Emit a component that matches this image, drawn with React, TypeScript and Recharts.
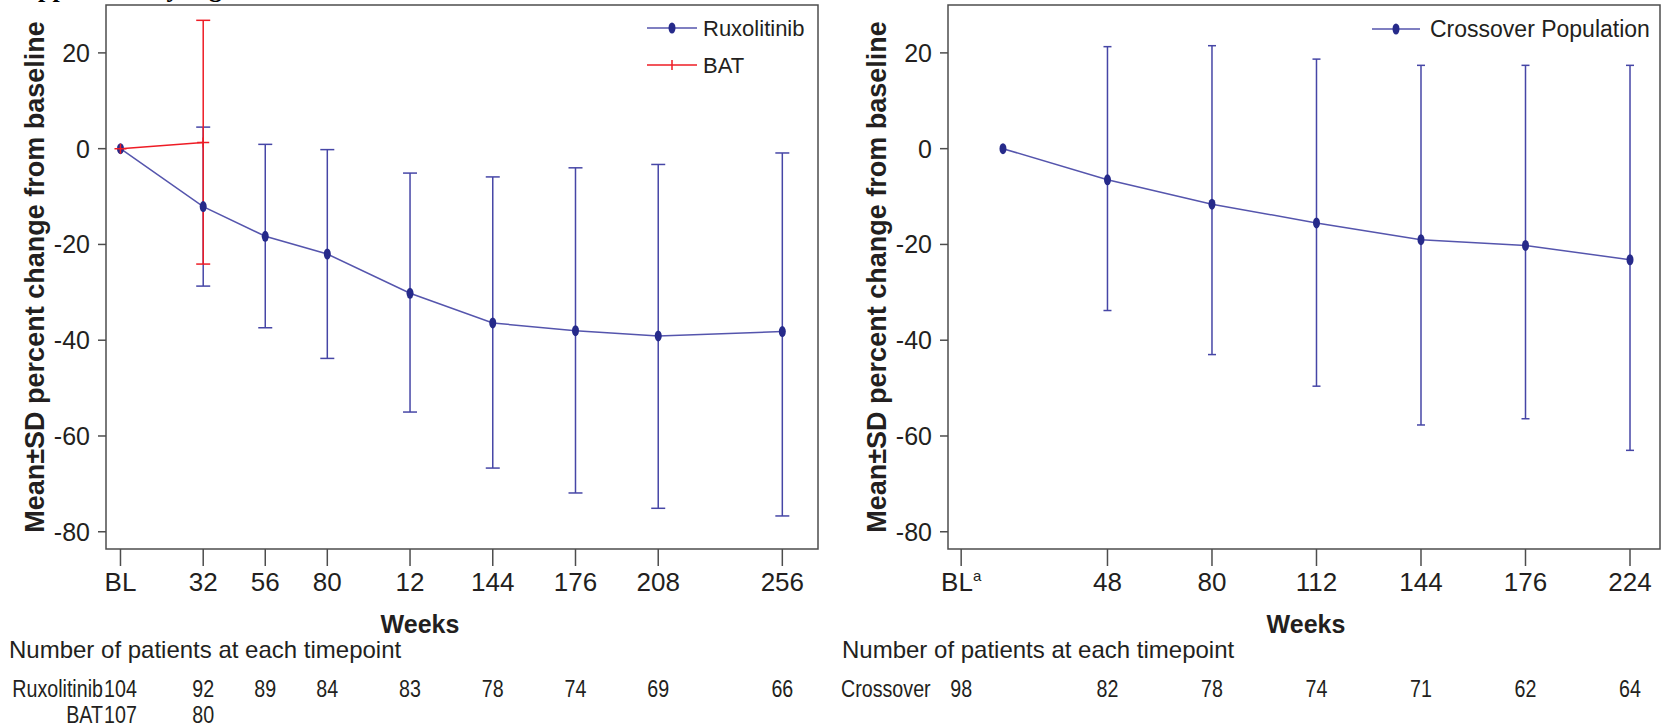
import React from 'react';
import { LineChart, Line, XAxis, YAxis, ErrorBar, ReferenceArea, Label } from 'recharts';

// ---- left panel: ruxolitinib vs BAT, by week ----
const ruxWeeks = [0, 32, 56, 80, 112, 144, 176, 208, 256];
const ruxMean = [0, -12.1, -18.3, -22.0, -30.2, -36.4, -38.0, -39.1, -38.2];
const ruxLow = [0, -28.7, -37.4, -43.8, -55.0, -66.7, -71.9, -75.1, -76.7];
const ruxHigh = [0, 4.5, 0.9, -0.2, -5.1, -5.9, -4.0, -3.3, -0.9];

const batWeeks = [0, 32];
const batMean = [0, 1.3];
const batLow = [0, -24.1];
const batHigh = [0, 26.8];

const leftTicks = [0, 32, 56, 80, 112, 144, 176, 208, 256];
const leftTickLabels = ['BL', '32', '56', '80', '12', '144', '176', '208', '256'];
const ruxCounts = [104, 92, 89, 84, 83, 78, 74, 69, 66];
const batCounts = [107, 80];

// ---- right panel: crossover population, by visit ----
const crossVisit = [0, 1, 2, 3, 4, 5, 6];
const crossMean = [0, -6.5, -11.6, -15.5, -19.0, -20.2, -23.2];
const crossLow = [0, -33.8, -43.0, -49.6, -57.7, -56.4, -63.0];
const crossHigh = [0, 21.3, 21.5, 18.7, 17.4, 17.4, 17.4];

const rightTicks = [-0.4, 1, 2, 3, 4, 5, 6];
const rightTickLabels = ['BL', '48', '80', '112', '144', '176', '224'];
const crossCounts = [98, 82, 78, 74, 71, 62, 64];

const yTicks = [-80, -60, -40, -20, 0, 20];
const yDomain: [number, number] = [-83.6, 30];
const leftDomain: [number, number] = [-5.6, 269.8];
const rightDomain: [number, number] = [-0.526, 6.287];

const ARIAL = '"Liberation Sans", Arial, sans-serif';
const TEXT = '#231f20';
const AXIS = '#4d4d4d';
const BLUE_LINE = '#5555ad';
const BLUE_BAR = '#4646a6';
const BLUE_DOT = '#262a8a';
const RED = '#ee1c25';

const withErr = (xs: number[], mean: number[], lo: number[], hi: number[]) =>
  xs.map((x, i) => ({
    x,
    mean: mean[i],
    err: i === 0 ? null : [mean[i] - lo[i], hi[i] - mean[i]],
  }));

const ruxData = withErr(ruxWeeks, ruxMean, ruxLow, ruxHigh);
const batData = withErr(batWeeks, batMean, batLow, batHigh);
const crossData = withErr(crossVisit, crossMean, crossLow, crossHigh);

// Arial squeezed horizontally, standing in for Arial Narrow
const Narrow = ({ x, y, anchor = 'middle', children }: any) => (
  <text
    transform={`translate(${x},${y}) scale(0.82,1)`}
    textAnchor={anchor}
    fontSize={24}
    fontFamily={ARIAL}
    fill={TEXT}
  >
    {children}
  </text>
);

const OvalDot = (p: any) => (
  <ellipse key={`o-${p.index}`} cx={p.cx} cy={p.cy} rx={3.5} ry={5.5} fill={BLUE_DOT} />
);

const PlusDot = (p: any) => (
  <path
    key={`p-${p.index}`}
    d={`M${p.cx - 6},${p.cy}h12M${p.cx},${p.cy - 5}v10`}
    stroke={RED}
    strokeWidth={1.5}
    fill="none"
  />
);

const LeftTick = (p: any) => {
  const i = leftTicks.indexOf(p.payload.value);
  return (
    <g>
      <text x={p.x} y={p.y + 25} textAnchor="middle" fontSize={26} fontFamily={ARIAL} fill={TEXT}>
        {leftTickLabels[i]}
      </text>
      <Narrow x={p.x} y={p.y + 131}>{ruxCounts[i]}</Narrow>
      {batCounts[i] != null && <Narrow x={p.x} y={p.y + 157}>{batCounts[i]}</Narrow>}
    </g>
  );
};

const RightTick = (p: any) => {
  const i = rightTicks.indexOf(p.payload.value);
  return (
    <g>
      <text x={p.x} y={p.y + 25} textAnchor="middle" fontSize={26} fontFamily={ARIAL} fill={TEXT}>
        {rightTickLabels[i]}
        {i === 0 && (
          <tspan fontSize={15} dy={-10}>
            a
          </tspan>
        )}
      </text>
      <Narrow x={p.x} y={p.y + 131}>{crossCounts[i]}</Narrow>
    </g>
  );
};

const YTitle = ({ viewBox }: any) => {
  const cx = viewBox.x + viewBox.width - 71;
  const cy = viewBox.y + viewBox.height / 2;
  return (
    <text
      x={cx}
      y={cy}
      transform={`rotate(-90 ${cx} ${cy})`}
      textAnchor="middle"
      dominantBaseline="central"
      fontSize={27}
      fontWeight="bold"
      fontFamily={ARIAL}
      fill={TEXT}
    >
      Mean±SD percent change from baseline
    </text>
  );
};

const weeksTitle = (dx: number) => ({ viewBox }: any) => (
  <text
    x={viewBox.x + viewBox.width / 2 + dx}
    y={viewBox.y + 84}
    textAnchor="middle"
    fontSize={25}
    fontWeight="bold"
    fontFamily={ARIAL}
    fill={TEXT}
  >
    Weeks
  </text>
);

const yAxisProps = {
  type: 'number' as const,
  domain: yDomain,
  ticks: yTicks,
  allowDataOverflow: true,
  axisLine: false,
  tickLine: { stroke: AXIS, strokeWidth: 1.5 },
  tickSize: 8,
  tickMargin: 8,
  width: 56,
  tick: { fontSize: 25, fontFamily: ARIAL, fill: TEXT },
};

function LeftPanel() {
  return (
    <LineChart width={840} height={728} margin={{ top: 5, right: 22, bottom: 9, left: 50 }}>
      <XAxis
        type="number"
        dataKey="x"
        domain={leftDomain}
        ticks={leftTicks}
        interval={0}
        allowDataOverflow
        axisLine={false}
        tickLine={{ stroke: AXIS, strokeWidth: 1.5 }}
        tickSize={17}
        tickMargin={0}
        height={170}
        tick={<LeftTick />}
      >
        <Label content={weeksTitle(-42)} />
      </XAxis>
      <YAxis {...yAxisProps}>
        <Label content={<YTitle />} />
      </YAxis>
      <ReferenceArea
        x1={leftDomain[0]}
        x2={leftDomain[1]}
        y1={yDomain[0]}
        y2={yDomain[1]}
        fill="none"
        stroke={AXIS}
        strokeWidth={1.5}
        ifOverflow="visible"
      />
      <Line
        data={ruxData}
        dataKey="mean"
        stroke={BLUE_LINE}
        strokeWidth={1.5}
        dot={OvalDot}
        activeDot={false}
        isAnimationActive={false}
      >
        <ErrorBar dataKey="err" width={7} stroke={BLUE_BAR} strokeWidth={1.5} direction="y" isAnimationActive={false} />
      </Line>
      <Line
        data={batData}
        dataKey="mean"
        stroke={RED}
        strokeWidth={1.5}
        dot={PlusDot}
        activeDot={false}
        isAnimationActive={false}
      >
        <ErrorBar dataKey="err" width={7} stroke={RED} strokeWidth={1.5} direction="y" isAnimationActive={false} />
      </Line>
    </LineChart>
  );
}

function RightPanel() {
  return (
    <LineChart width={837} height={728} margin={{ top: 5, right: 7, bottom: 9, left: 62 }}>
      <XAxis
        type="number"
        dataKey="x"
        domain={rightDomain}
        ticks={rightTicks}
        interval={0}
        allowDataOverflow
        axisLine={false}
        tickLine={{ stroke: AXIS, strokeWidth: 1.5 }}
        tickSize={17}
        tickMargin={0}
        height={170}
        tick={<RightTick />}
      >
        <Label content={weeksTitle(2)} />
      </XAxis>
      <YAxis {...yAxisProps}>
        <Label content={<YTitle />} />
      </YAxis>
      <ReferenceArea
        x1={rightDomain[0]}
        x2={rightDomain[1]}
        y1={yDomain[0]}
        y2={yDomain[1]}
        fill="none"
        stroke={AXIS}
        strokeWidth={1.5}
        ifOverflow="visible"
      />
      <Line
        data={crossData}
        dataKey="mean"
        stroke={BLUE_LINE}
        strokeWidth={1.5}
        dot={OvalDot}
        activeDot={false}
        isAnimationActive={false}
      >
        <ErrorBar dataKey="err" width={4} stroke={BLUE_BAR} strokeWidth={1.5} direction="y" isAnimationActive={false} />
      </Line>
    </LineChart>
  );
}

export default function App() {
  return (
    <div style={{ position: 'absolute', left: 0, top: 0, width: 1667, height: 728, background: '#fff', overflow: 'hidden' }}>
      <div style={{ position: 'absolute', left: 0, top: 0 }}>
        <LeftPanel />
      </div>
      <div style={{ position: 'absolute', left: 830, top: 0 }}>
        <RightPanel />
      </div>
      <svg width={1667} height={728} style={{ position: 'absolute', left: 0, top: 0, pointerEvents: 'none' }}>
        {/* heading of the page, cut off at the top edge */}
        <text x={9} y={-3} fontSize={26} fontWeight="bold" fontFamily='"Liberation Serif", serif' fill="#000">
          Supplementary Figure
        </text>

        {/* legends */}
        <line x1={647} x2={697} y1={28} y2={28} stroke={BLUE_LINE} strokeWidth={1.5} />
        <ellipse cx={672} cy={28} rx={3.5} ry={5.5} fill={BLUE_DOT} />
        <text x={703} y={36} fontSize={22} fontFamily={ARIAL} fill={TEXT}>Ruxolitinib</text>
        <line x1={647} x2={697} y1={65} y2={65} stroke={RED} strokeWidth={1.5} />
        <line x1={672} x2={672} y1={60} y2={70} stroke={RED} strokeWidth={1.5} />
        <text x={703} y={73} fontSize={22} fontFamily={ARIAL} fill={TEXT}>BAT</text>

        <line x1={1372} x2={1420} y1={29} y2={29} stroke={BLUE_LINE} strokeWidth={1.5} />
        <ellipse cx={1396} cy={29} rx={3.5} ry={5.5} fill={BLUE_DOT} />
        <text x={1430} y={37} fontSize={23} fontFamily={ARIAL} fill={TEXT}>Crossover Population</text>

        {/* patient count table labels */}
        <text x={9} y={658} fontSize={24} fontFamily={ARIAL} fill={TEXT}>Number of patients at each timepoint</text>
        <Narrow x={103} y={697} anchor="end">Ruxolitinib</Narrow>
        <Narrow x={103} y={723} anchor="end">BAT</Narrow>
        <text x={842} y={658} fontSize={24} fontFamily={ARIAL} fill={TEXT}>Number of patients at each timepoint</text>
        <Narrow x={841} y={697} anchor="start">Crossover</Narrow>
      </svg>
    </div>
  );
}
